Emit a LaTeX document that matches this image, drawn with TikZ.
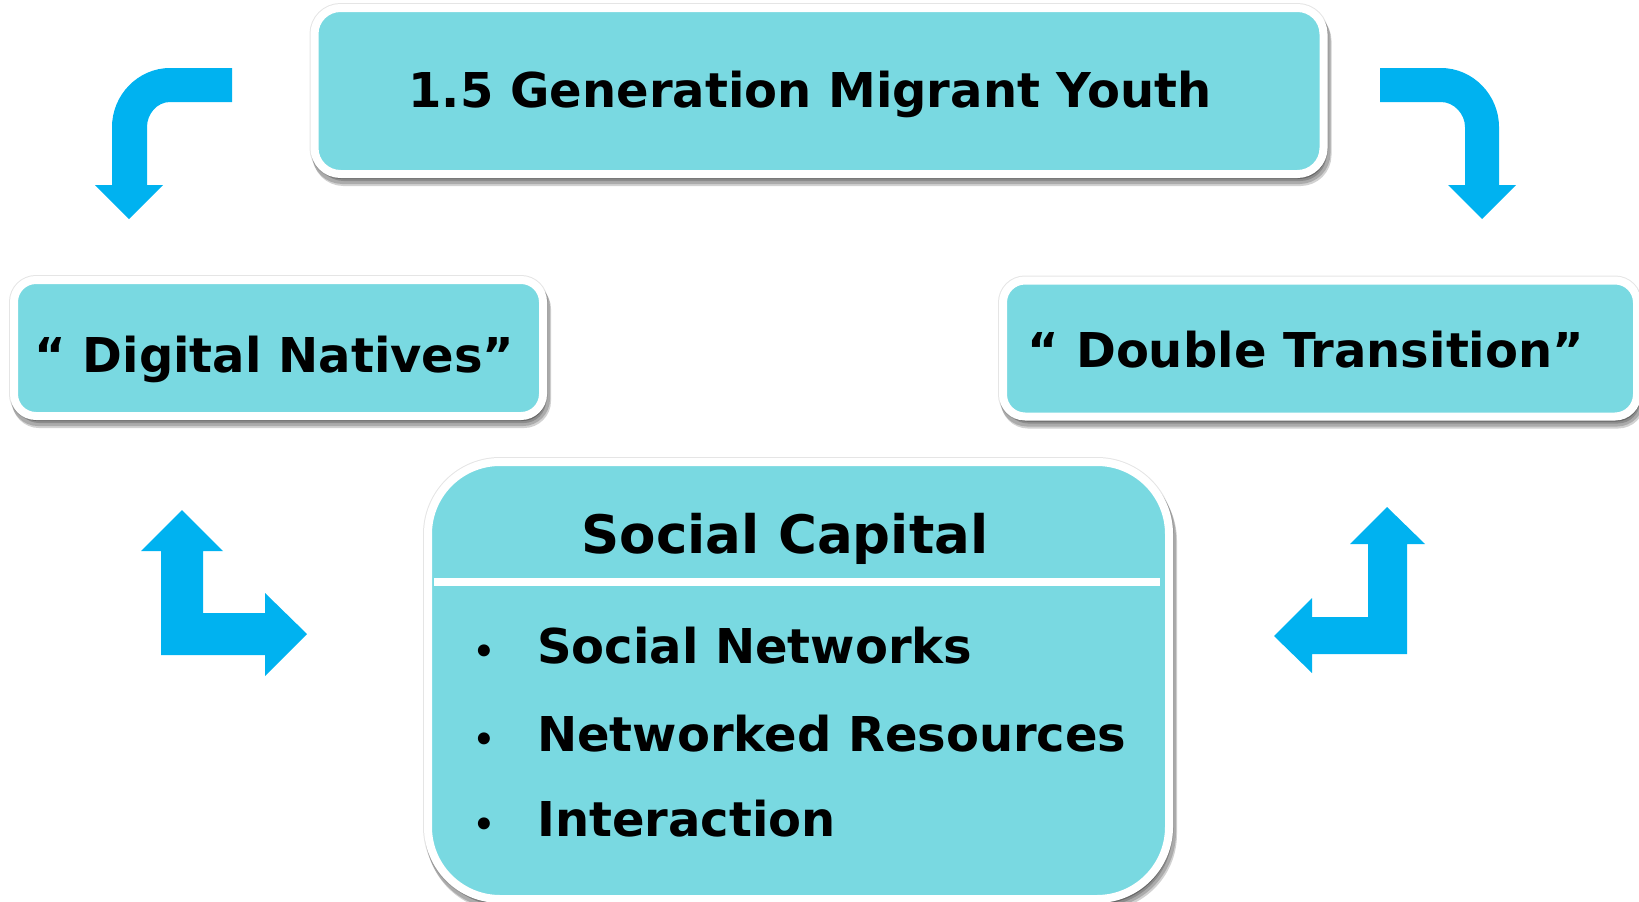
\documentclass[tikz,border=0pt]{standalone}
\usepackage{fontspec}
\setmainfont{DejaVu Sans}
\usetikzlibrary{shadows}
\definecolor{boxfill}{RGB}{121,217,225}
\definecolor{arrowblue}{RGB}{0,178,240}
\begin{document}
\begin{tikzpicture}[x=1pt,y=-1pt,
  box/.style={draw=white, fill=boxfill, line width=8pt, inner sep=0pt,
    preaction={draw=black!10, line width=10pt},
    general shadow={shadow xshift=3pt, shadow yshift=-7pt, opacity=0.18, fill=black, draw=black, line width=10pt},
    general shadow={shadow xshift=2pt, shadow yshift=-5pt, opacity=0.18, fill=black, draw=black, line width=10pt}},
  txt/.style={font=\bfseries\fontsize{48}{58}\selectfont, inner sep=0pt, anchor=base},
  bullettxt/.style={font=\bfseries\fontsize{34}{40}\selectfont, inner sep=0pt, anchor=base},
  bigtxt/.style={font=\bfseries\fontsize{53}{64}\selectfont, inner sep=0pt, anchor=base},
  itemtxt/.style={font=\bfseries\fontsize{48}{58}\selectfont, inner sep=0pt, anchor=base west},
  bendarrow/.style={fill=arrowblue, draw=none}]
\useasboundingbox (0,0) rectangle (1639,902);
% boxes
\node[box, rounded corners=26pt, minimum width=1009pt, minimum height=166pt] (top) at (819,91) {};
\node[box, rounded corners=22pt, minimum width=529pt, minimum height=136pt] (left) at (278.5,348) {};
\node[box, rounded corners=22pt, minimum width=634pt, minimum height=136pt] (right) at (1320,348.5) {};
\node[box, rounded corners=72pt, minimum width=741pt, minimum height=437pt] (bottom) at (798.5,680.5) {};
% texts
\node[txt] (toptext) at (810,107) {1.5 Generation Migrant Youth};
\node[txt] (lefttext) at (274.5,372) {“ Digital Natives”};
\node[txt] (righttext) at (1306,367) {“ Double Transition”};
\node[bigtxt] (sc) at (785,553) {Social Capital};
\coordinate (sepL) at (434,582);
\coordinate (sepR) at (1160,582);
\draw[white, line width=8pt] (sepL) -- (sepR);
\node[itemtxt] (i1) at (537,663) {Social Networks};
\node[itemtxt] (i2) at (537,751) {Networked Resources};
\node[itemtxt] (i3) at (537,836) {Interaction};
\foreach \yy/\nm in {663/b1,751/b2,836/b3}
  \node[bullettxt] (\nm) at (484,\yy) {•};
% top-left bent arrow
\path[bendarrow] (232,68) -- (170,68) .. controls (138,68) and (112,95) .. (112,127)
  -- (112,185) -- (95,185) -- (129,219) -- (163,185) -- (147,185) -- (147,127)
  .. controls (147,114) and (157,102) .. (170,102) -- (232,102) -- cycle;
% top-right bent arrow
\path[bendarrow] (1380,68) -- (1441,68) .. controls (1473,68) and (1499,95) .. (1499,127)
  -- (1499,185) -- (1516,185) -- (1482,219) -- (1448,185) -- (1465,185) -- (1465,127)
  .. controls (1465,114) and (1454,102) .. (1441,102) -- (1380,102) -- cycle;
% bottom-left L arrow
\path[bendarrow] (182,510) -- (223,551) -- (203,551) -- (203,613) -- (265,613) -- (265,593)
  -- (307,634) -- (265,676) -- (265,655) -- (161,655) -- (161,551) -- (141,551) -- cycle;
% bottom-right L arrow
\path[bendarrow] (1387,507) -- (1425,544) -- (1407,544) -- (1407,654) -- (1312,654) -- (1312,673)
  -- (1274,636) -- (1312,598) -- (1312,617) -- (1368,617) -- (1368,544) -- (1350,544) -- cycle;
\end{tikzpicture}
\end{document}
